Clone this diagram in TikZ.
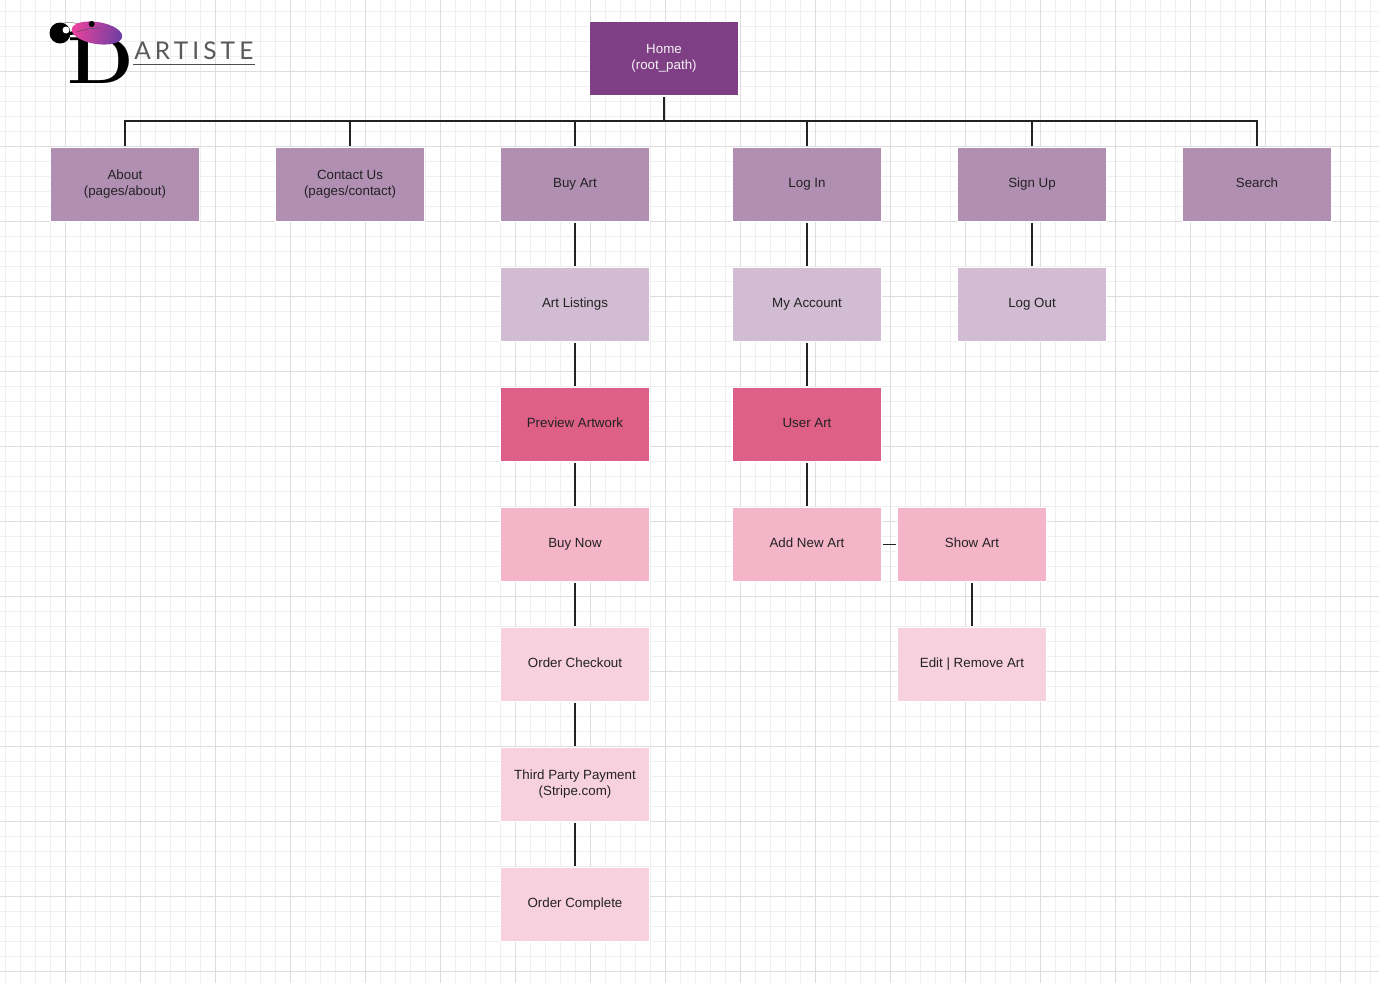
\documentclass[tikz,border=0pt]{standalone}
\usepackage{fontspec}
\setsansfont{Liberation Sans}
\newfontfamily\logofont[LetterSpace=17]{Lato}
\usepackage{xcolor}
\usetikzlibrary{arrows.meta,positioning,calc}
\definecolor{siteHome}{HTML}{7F3F85}
\definecolor{siteMain}{HTML}{B18FB3}
\definecolor{siteSub}{HTML}{D2BCD3}
\definecolor{siteRose}{HTML}{DE5F87}
\definecolor{sitePink}{HTML}{F5B5C9}
\definecolor{siteBlush}{HTML}{F8D1DF}
\definecolor{gridMinor}{HTML}{EFEFEF}
\definecolor{gridMajor}{HTML}{DDDDDD}
\definecolor{inkDark}{HTML}{222222}
\definecolor{beretPink}{HTML}{EA429F}
\definecolor{beretRose}{HTML}{D95FA3}
\definecolor{beretViolet}{HTML}{6F3FA0}

\begin{document}
\begin{tikzpicture}[x=0.75pt,y=-0.75pt,font=\sffamily\fontsize{10}{12}\selectfont,
  box/.style={draw=white,line width=0.75pt,minimum width=111.75pt,minimum height=55.5pt,
    inner sep=0pt,outer sep=1pt,align=center,text=inkDark,text depth=2.5pt},
  link/.style={inkDark,line width=1.2pt}]
\useasboundingbox (0,0) rectangle (1379,983);
\fill[white] (0,0) rectangle (1379,983);
% grid
\foreach \x in {5.5,20.5,...,1375.5}{
  \draw[gridMinor,line width=0.75pt] (\x,0) -- (\x,983);
}
\foreach \y in {11.5,26.5,...,971.5}{
  \draw[gridMinor,line width=0.75pt] (0,\y) -- (1379,\y);
}
\foreach \x in {65.5,140.5,...,1340.5}{
  \draw[gridMajor,line width=0.75pt] (\x,0) -- (\x,983);
}
\foreach \y in {71.5,146.5,...,971.5}{
  \draw[gridMajor,line width=0.75pt] (0,\y) -- (1379,\y);
}
% logo
\node[inner sep=0pt,anchor=base,xscale=1.16] (logoD) at (100.5,83) {\rmfamily\bfseries\fontsize{50}{50}\selectfont D};
\fill[black] (60,33) circle (10.5);
\fill[white] (66,30) circle (3.5);
\fill[black] (70,32) -- (78,29) -- (78,34) -- (70,35) -- cycle;
\draw[gray,line width=0.4pt] (63,23) .. controls (75,21) and (82,25) .. (88,29);
\shade[top color=beretPink,middle color=beretRose,bottom color=beretViolet,shading angle=75,rotate around={-9:(97,33)}]
  (97,33) ellipse (25.5 and 11);
\fill[black] (91.7,24) circle (3);
\draw[black!70,line width=0.3pt] (77,32) .. controls (85,29) and (92,28) .. (100,28);
\node[inner sep=0pt,anchor=base west,text=black!65] (logoName) at (134,59.5) {\logofont\fontsize{18.3}{20}\selectfont ARTISTE};
\draw[black!70,line width=0.6pt] (133,64) -- (255,64);
% pages
\node[box,fill=siteHome,text=white!92!siteHome] (home) at (664,58.5) {Home\\(root\_path)};
\foreach \name/\x/\txt in {about/125/{About\\(pages/about)},contact/350/{Contact Us\\(pages/contact)},
  buyart/575/{Buy Art},login/807/{Log In},signup/1032/{Sign Up},search/1257/{Search}}{
  \node[box,fill=siteMain] (\name) at (\x,184.5) {\txt};
}
\node[box,fill=siteSub] (listings) at (575,304.5) {Art Listings};
\node[box,fill=siteSub] (account) at (807,304.5) {My Account};
\node[box,fill=siteSub] (logout) at (1032,304.5) {Log Out};
\node[box,fill=siteRose] (preview) at (575,424.5) {Preview Artwork};
\node[box,fill=siteRose] (userart) at (807,424.5) {User Art};
\node[box,fill=sitePink] (buynow) at (575,544.5) {Buy Now};
\node[box,fill=sitePink] (addart) at (807,544.5) {Add New Art};
\node[box,fill=sitePink] (showart) at (972,544.5) {Show Art};
\node[box,fill=siteBlush] (checkout) at (575,664.5) {Order Checkout};
\node[box,fill=siteBlush] (editart) at (972,664.5) {Edit | Remove Art};
\node[box,fill=siteBlush] (payment) at (575,784.5) {Third Party Payment\\(Stripe.com)};
\node[box,fill=siteBlush] (complete) at (575,904.5) {Order Complete};
% connectors
\coordinate (bus) at (664,121);
\draw[link] (home) -- (bus);
\foreach \name in {about,contact,buyart,login,signup,search}{
  \draw[link] (\name.north) |- (bus);
}
\foreach \a/\b in {buyart/listings,listings/preview,preview/buynow,buynow/checkout,checkout/payment,
  payment/complete,login/account,account/userart,userart/addart,signup/logout,addart/showart,showart/editart}{
  \draw[link] (\a) -- (\b);
}
\end{tikzpicture}
\end{document}
